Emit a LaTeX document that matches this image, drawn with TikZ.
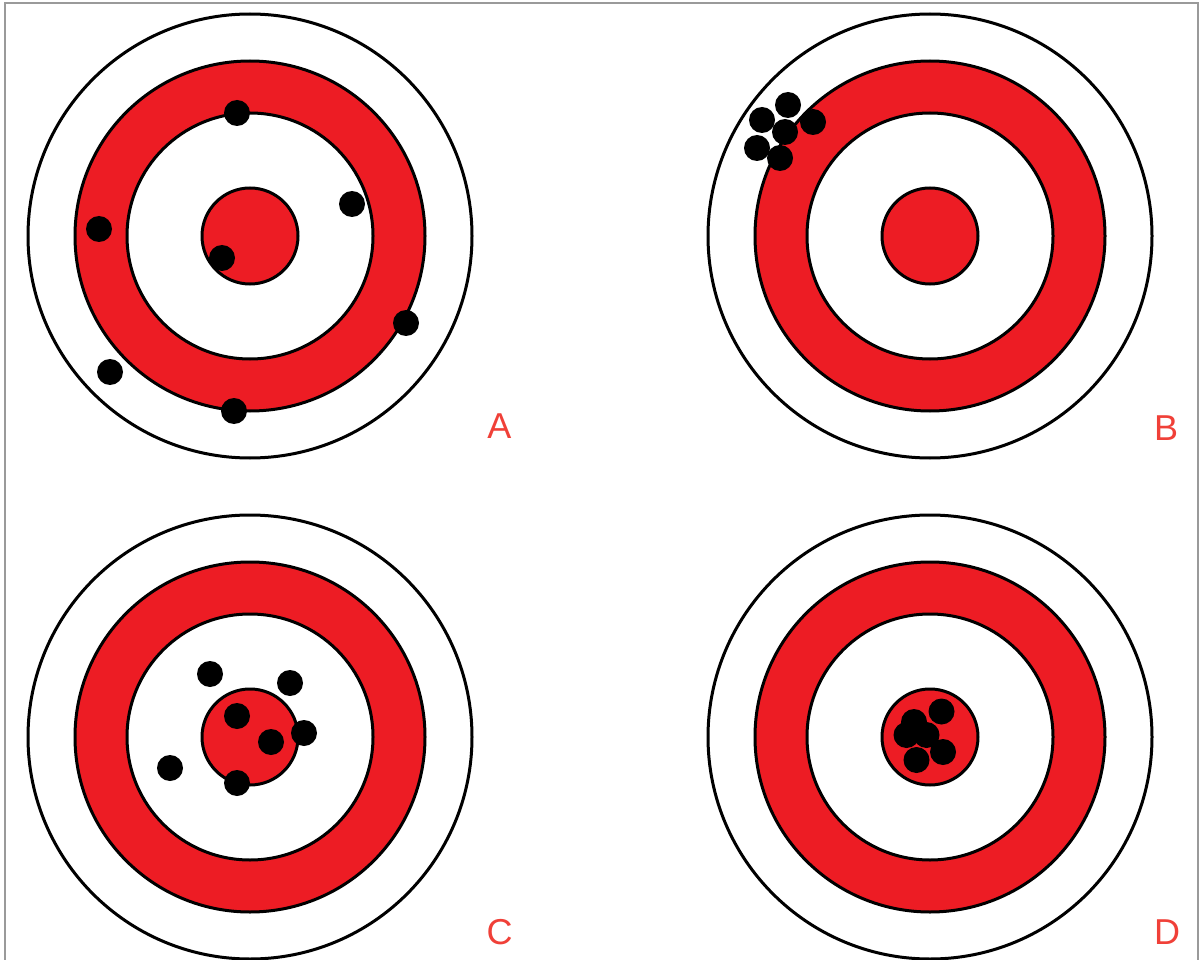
\documentclass[tikz,border=0pt]{standalone}
\usepackage{fontspec}
\setmainfont{Liberation Sans}
\definecolor{ringred}{HTML}{ED1C24}
\definecolor{labelred}{HTML}{F04038}
\definecolor{framegray}{HTML}{9A9A9A}
\begin{document}
\begin{tikzpicture}[x=1pt,y=-1pt,
  ringline/.style={draw=black,line width=3pt},
  whitering/.style={ringline,fill=white},
  redring/.style={ringline,fill=ringred},
  hole/.style={fill=black},
  tlabel/.style={text=labelred,font=\fontsize{36}{36}\selectfont,inner sep=0pt,anchor=center}]
\useasboundingbox (0,0) rectangle (1200,960);
\fill[white] (0,0) rectangle (1200,960);
\draw[framegray,line width=2pt] (5,962) -- (5,3.5) -- (1198,3.5) -- (1198,962);
\newcommand{\target}[2]{%
  \draw[whitering] (#1,#2) circle (222);
  \draw[redring] (#1,#2) circle (175);
  \draw[whitering] (#1,#2) circle (123);
  \draw[redring] (#1,#2) circle (48);
}
\target{250}{236}
\target{930}{236}
\target{250}{737}
\target{930}{737}
% A
\foreach \p in {(237,113),(352,204),(99,229),(222,258),(406,323),(110,372),(234,411)}
  \fill[hole] \p circle (13);
% B
\foreach \p in {(788,105),(762,120),(813,122),(785,132),(757,148),(780,158)}
  \fill[hole] \p circle (13);
% C
\foreach \p in {(210,674),(290,683),(237,716),(304,733),(271,742),(170,768),(237,783)}
  \fill[hole] \p circle (13);
% D
\foreach \p in {(941.5,711.5),(914,722),(906.5,735),(926.5,735),(943,752),(916.5,760)}
  \fill[hole] \p circle (13);
\node[tlabel] (la) at (499.5,426) {A};
\node[tlabel] (lb) at (1166,428) {B};
\node[tlabel] (lc) at (499.5,932) {C};
\node[tlabel] (ld) at (1167,932) {D};
\end{tikzpicture}
\end{document}
